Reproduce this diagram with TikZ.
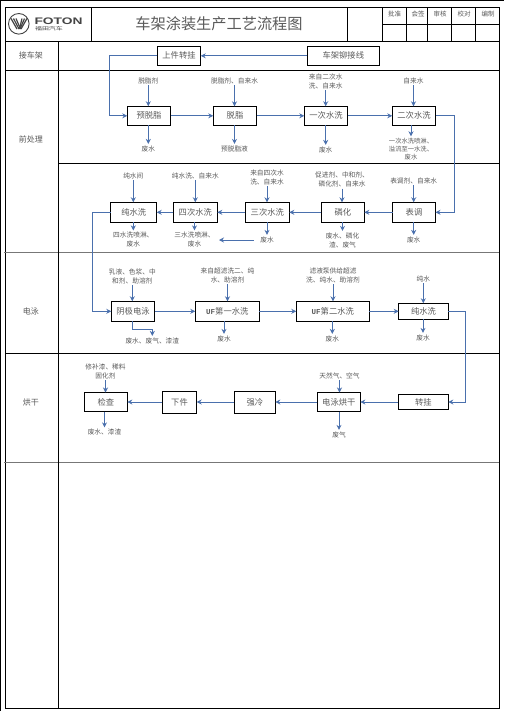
\documentclass[tikz,border=0pt]{standalone}
\usepackage{fontspec}
\usepackage{xcolor}
\setmainfont{Noto Sans CJK SC}
\newfontfamily\logofont[FakeStretch=1.45]{Liberation Sans Bold}
\newfontfamily\logocn[FakeStretch=1.45]{Noto Sans CJK SC}
\newfontfamily\ufmark{Liberation Mono Bold}
\usetikzlibrary{arrows.meta,positioning}
\definecolor{FlowBlue}{HTML}{4A70AD}
\definecolor{NoteGrey}{HTML}{5A5A5A}
\definecolor{LogoGrey}{HTML}{444444}
\definecolor{RuleGrey}{HTML}{777777}

\begin{document}
\begin{tikzpicture}[
  x=1pt, y=-1pt, every node/.style={inner sep=0pt, outer sep=0pt},
  gridline/.style={draw=black, line width=1pt},
  stepbox/.style={draw=black, line width=1pt, fill=white, text=NoteGrey, font=\fontsize{8.3}{10}\selectfont, anchor=center},
  note/.style={text=NoteGrey, font=\fontsize{6.7}{9}\selectfont, align=center, outer ysep=1.5pt},
  sign/.style={text=NoteGrey, font=\fontsize{6.5}{8}\selectfont},
  stage/.style={text=NoteGrey, font=\fontsize{8}{10}\selectfont},
  arrow/.style={-{Stealth[length=5pt, width=5pt]}, draw=FlowBlue, line width=1pt}
]
\useasboundingbox (0,0) rectangle (504,713);
\fill[white] (0,0) rectangle (504,713);

% frame and rows
\draw[gridline] (0.4,0) -- (0.4,711);
\draw[gridline] (0,0.4) -- (504,0.4);
\draw[gridline] (5,7.5) rectangle (499,708);
\draw[gridline] (5,41) -- (499,41);
\draw[gridline] (5,70.3) -- (499,70.3);
\draw[gridline] (58.3,163.3) -- (499,163.3);
\draw[gridline, draw=RuleGrey] (4,252.7) -- (499,252.7);
\draw[gridline] (5,353.3) -- (499,353.3);
\draw[gridline, draw=RuleGrey] (4,462.4) -- (499,462.4);
\draw[gridline] (58.3,41) -- (58.3,708);

% title block
\draw[gridline] (91.5,7.5) -- (91.5,41.4) -- (347.7,41.4) -- (347.7,7.5);
\draw[gridline] (382.4,7.5) -- (382.4,41.4);
\draw[gridline] (382.4,24.4) -- (499,24.4);
\foreach \xa in {406.4,427.4,451.4,475.4} \draw[gridline] (\xa,7.5) -- (\xa,41.4);
\node[text=NoteGrey, font=\fontsize{15.2}{17}\selectfont] (title) at (219,23.5) {车架涂装生产工艺流程图};
\node[sign] (sign1) at (394.7,14.5) {批准};
\node[sign] (sign2) at (418,14.5) {会签};
\node[sign] (sign3) at (440,14.5) {审核};
\node[sign] (sign4) at (464,14.5) {校对};
\node[sign] (sign5) at (488,14.5) {编制};

% logo
\draw[LogoGrey, line width=0.9pt] (18.8,23.8) circle (10.3pt);
\foreach \xa/\xb in {11/17,13.5/19,16/20.5} \draw[LogoGrey, line width=1.2pt] (\xa,18.5) -- (\xb,29);
\foreach \xa/\xb in {27/21,24.5/20,22/19.5} \draw[LogoGrey, line width=1.2pt] (\xa,18.5) -- (\xb,29);
\node[text=LogoGrey, font=\logofont\fontsize{9.5}{10}\selectfont] (foton) at (58.5,21.5) {FOTON};
\node[text=LogoGrey, font=\logocn\fontsize{4.8}{5}\selectfont] (fotoncn) at (49,28.7) {福田汽车};

% row labels
\node[stage] (rowa) at (31,55.5) {接车架};
\node[stage] (rowb) at (31,139.5) {前处理};
\node[stage] (rowc) at (31,311) {电泳};
\node[stage] (rowd) at (31,402) {烘干};

% boxes
\node[stepbox, minimum width=43.4pt, minimum height=19pt] (shangjian) at (179,55.8) {上件转挂};
\node[stepbox, minimum width=72pt, minimum height=19pt] (maojie) at (343.3,55.8) {车架铆接线};

\node[stepbox, minimum width=43.4pt, minimum height=19pt] (yutuo) at (149,115.8) {预脱脂};
\node[stepbox, minimum width=43.4pt, minimum height=19pt] (tuozhi) at (235,115.8) {脱脂};
\node[stepbox, minimum width=43.4pt, minimum height=19pt] (yici) at (326,115.8) {一次水洗};
\node[stepbox, minimum width=43.4pt, minimum height=19pt] (erci) at (414,115.8) {二次水洗};

\node[stepbox, minimum width=46pt, minimum height=20pt] (chuna) at (133.7,212.3) {纯水洗};
\node[stepbox, minimum width=44pt, minimum height=20pt] (sici) at (195.3,212.3) {四次水洗};
\node[stepbox, minimum width=44pt, minimum height=20pt] (sanci) at (267.3,212.3) {三次水洗};
\node[stepbox, minimum width=43pt, minimum height=20pt] (linhua) at (342.8,212.3) {磷化};
\node[stepbox, minimum width=43pt, minimum height=20pt] (biaotiao) at (414,212.3) {表调};

\node[stepbox, minimum width=43.4pt, minimum height=20pt] (yinji) at (133,311.3) {阴极电泳};
\node[stepbox, minimum width=64pt, minimum height=20pt] (ufa) at (227.3,311.3) {{\ufmark\fontsize{7.5}{9}\selectfont UF}第一水洗};
\node[stepbox, minimum width=73pt, minimum height=20pt] (ufb) at (332.8,311.3) {{\ufmark\fontsize{7.5}{9}\selectfont UF}第二水洗};
\node[stepbox, minimum width=49.6pt, minimum height=16pt] (chunb) at (423.5,311.3) {纯水洗};

\node[stepbox, minimum width=43pt, minimum height=19pt] (jiancha) at (105.8,402) {检查};
\node[stepbox, minimum width=34.4pt, minimum height=22pt] (xiajian) at (179.5,402) {下件};
\node[stepbox, minimum width=41pt, minimum height=22pt] (qiangleng) at (254.8,402) {强冷};
\node[stepbox, minimum width=43pt, minimum height=19pt] (hongan) at (338.8,402) {电泳烘干};
\node[stepbox, minimum width=50pt, minimum height=15pt] (zhuangua) at (423.3,402) {转挂};

% notes
\node[note] (n1) at (148.3,80.5) {脱脂剂};
\node[note] (n2) at (234.5,80.5) {脱脂剂、自来水};
\node[note] (n3) at (325.7,81) {来自二次水\\洗、自来水};
\node[note] (n4) at (413.5,80.5) {自来水};
\node[note] (w1) at (148.3,148.5) {废水};
\node[note] (w2) at (234.5,148.5) {预脱脂液};
\node[note] (w3) at (325.7,149.5) {废水};
\node[note, font=\fontsize{6.3}{8.3}\selectfont] (w4) at (411,149) {一次水洗喷淋、\\溢流至一水洗、\\废水};

\node[note] (n5) at (133.3,175.5) {纯水间};
\node[note] (n6) at (195.3,175.5) {纯水洗、自来水};
\node[note] (n7) at (267,177) {来自四次水\\洗、自来水};
\node[note] (n8) at (342,179.5) {促进剂、中和剂、\\磷化剂、自来水};
\node[note] (n9) at (413.7,180.5) {表调剂、自来水};
\node[note] (w5) at (133.3,239.5) {四水洗喷淋、\\废水};
\node[note] (w6) at (194.5,239.5) {三水洗喷淋、\\废水};
\node[note] (w7) at (267,239.5) {废水};
\node[note] (w8) at (342.5,240) {废水、磷化\\渣、废气};
\node[note] (w9) at (413.7,239.5) {废水};
\coordinate (w6r) at (219,240);
\coordinate (w7l) at (253.5,240);

\node[note] (n10) at (132.3,276) {乳液、色浆、中\\和剂、助溶剂};
\node[note] (n11) at (227.5,275) {来自超滤洗二、纯\\水、助溶剂};
\node[note] (n12) at (333,275) {滤液泵供给超滤\\洗、纯水、助溶剂};
\node[note] (n13) at (423.3,278.5) {纯水};
\node[note] (w10) at (152.3,340.5) {废水、废气、漆渣};
\node[note] (w11) at (224,338.5) {废水};
\node[note] (w12) at (332.3,338.5) {废水};
\node[note] (w13) at (423,337.5) {废水};

\node[note, font=\fontsize{6.7}{8.3}\selectfont] (n14) at (105.5,371.5) {修补漆、稀料\\固化剂};
\node[note] (n15) at (339.5,375.5) {天然气、空气};
\node[note] (w14) at (104.5,432) {废水、漆渣};
\node[note] (w15) at (339,434.5) {废气};

% main line
\draw[arrow] (maojie) -- (shangjian);
\draw[arrow] (shangjian.west) -- ++(-48,0) |- (yutuo.west);
\draw[arrow] (yutuo) -- (tuozhi);
\draw[arrow] (tuozhi) -- (yici);
\draw[arrow] (yici) -- (erci);
\draw[arrow] (erci.east) -- ++(19,0) |- (biaotiao.east);
\draw[arrow] (biaotiao) -- (linhua);
\draw[arrow] (linhua) -- (sanci);
\draw[arrow] (sanci) -- (sici);
\draw[arrow] (sici) -- (chuna);
\draw[arrow] (chuna.west) -- ++(-18.4,0) |- (yinji.west);
\draw[arrow] (yinji) -- (ufa);
\draw[arrow] (ufa) -- (ufb);
\draw[arrow] (ufb) -- (chunb);
\draw[arrow] (chunb.east) -- ++(17.5,0) |- (zhuangua.east);
\draw[arrow] (zhuangua) -- (hongan);
\draw[arrow] (hongan) -- (qiangleng);
\draw[arrow] (qiangleng) -- (xiajian);
\draw[arrow] (xiajian) -- (jiancha);

% inputs and outlets
\foreach \na/\nb in {n1/yutuo,n2/tuozhi,n3/yici,n4/erci,n5/chuna,n6/sici,n7/sanci,n8/linhua,n9/biaotiao,n10/yinji,n11/ufa,n12/ufb,n13/chunb,n14/jiancha,n15/hongan}
  \draw[arrow] (\na.south) -- (\na.south |- \nb.north);
\foreach \na/\nb in {yutuo/w1,tuozhi/w2,yici/w3,erci/w4,chuna/w5,sici/w6,sanci/w7,linhua/w8,biaotiao/w9,ufa/w11,ufb/w12,chunb/w13,jiancha/w14,hongan/w15}
  \draw[arrow] (\na.south -| \nb.north) -- (\nb.north);
\draw[arrow] (w7l) -- (w6r);
\draw[arrow] (yinji.south -| n10.south) |- ([yshift=6pt]w10.north) -- (w10.north);
\end{tikzpicture}
\end{document}
